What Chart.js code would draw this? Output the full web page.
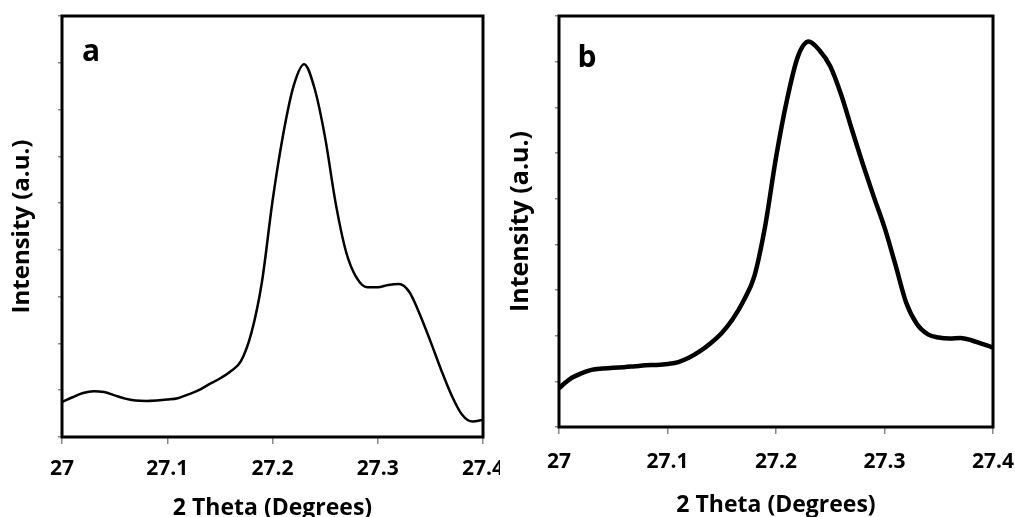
<!DOCTYPE html>
<html>
<head>
<meta charset="utf-8">
<script src="https://cdn.jsdelivr.net/npm/chart.js@4"></script>
<style>
  body { margin: 0; background: #fff; }
  #wrap { position: relative; width: 1015px; height: 517px; overflow: hidden; }
  #chartA { position: absolute; left: 0; top: 0; }
  #chartB { position: absolute; left: 500px; top: 0; }
</style>
</head>
<body>
<div id="wrap">
  <canvas id="chartA" width="500" height="517"></canvas>
  <canvas id="chartB" width="515" height="517"></canvas>
</div>
<script>
// 2 theta positions (degrees)
const theta = [
  27.00, 27.01, 27.02, 27.03, 27.04, 27.05, 27.06, 27.07, 27.08, 27.09,
  27.10, 27.11, 27.12, 27.13, 27.14, 27.15, 27.16, 27.17, 27.18, 27.19,
  27.20, 27.21, 27.22, 27.23, 27.24, 27.25, 27.26, 27.27, 27.28, 27.29,
  27.30, 27.31, 27.32, 27.33, 27.34, 27.35, 27.36, 27.37, 27.38, 27.39,
  27.40
];

// sample a intensity (a.u.)
const intensityA = [
  0.75, 0.85, 0.94, 0.98, 0.96, 0.89, 0.82, 0.78, 0.77, 0.78,
  0.80, 0.83, 0.91, 1.00, 1.13, 1.25, 1.40, 1.62, 2.23, 3.32,
  5.04, 6.45, 7.50, 7.97, 7.45, 6.40, 5.00, 3.95, 3.40, 3.20,
  3.20, 3.25, 3.27, 3.10, 2.62, 2.05, 1.45, 0.90, 0.48, 0.33,
  0.37
];

// sample b intensity (a.u.)
const intensityB = [
  0.85, 1.05, 1.17, 1.25, 1.28, 1.30, 1.31, 1.33, 1.35, 1.36,
  1.38, 1.42, 1.52, 1.66, 1.84, 2.06, 2.36, 2.76, 3.30, 4.40,
  5.90, 7.15, 8.10, 8.44, 8.25, 7.90, 7.28, 6.51, 5.76, 5.05,
  4.37, 3.56, 2.72, 2.25, 2.03, 1.96, 1.94, 1.95, 1.90, 1.82,
  1.74
];

const xTicks = [27, 27.1, 27.2, 27.3, 27.4];

const FONT = "'Open Sans', 'DejaVu Sans', sans-serif";

// box around the plot area + panel letter
const frame = {
    id: 'frame',
    afterDraw(chart, args, opts) {
        const { ctx, chartArea: a } = chart;
        ctx.save();
        ctx.strokeStyle = '#000';
        ctx.lineWidth = opts.lineWidth;
        ctx.strokeRect(a.left, a.top, a.right - a.left, a.bottom - a.top);
        ctx.fillStyle = '#000';
        ctx.font = 'bold 30px ' + FONT;
        ctx.textAlign = 'center';
        ctx.textBaseline = 'alphabetic';
        ctx.fillText(opts.letter, a.left + opts.lx, a.top + opts.ly);
        ctx.restore();
    }
};

function makeChart(id, values, p) {
    const ctx = document.getElementById(id).getContext('2d');
    return new Chart(ctx, {
        type: 'line',
        data: {
            datasets: [{
                data: theta.map((t, i) => ({ x: t, y: values[i] })),
                borderColor: '#000',
                borderWidth: p.lineWidth,
                pointRadius: 0,
                fill: false,
                cubicInterpolationMode: 'monotone'
            }]
        },
        options: {
            responsive: false,
            animation: false,
            events: [],
            layout: {
                autoPadding: false,
                padding: { left: 0, top: 16, right: p.right, bottom: 0 }
            },
            plugins: {
                legend: { display: false },
                tooltip: { enabled: false },
                frame: { lineWidth: p.frameWidth, letter: p.letter, lx: p.lx, ly: p.ly }
            },
            scales: {
                x: {
                    type: 'linear',
                    min: 27,
                    max: 27.4,
                    afterBuildTicks: (s) => { s.ticks = xTicks.map(v => ({ value: v })); },
                    afterFit: (s) => {
                        s.height = p.xHeight;
                        s.paddingLeft = 0;
                        s.paddingRight = 0;
                    },
                    grid: { drawOnChartArea: false, tickLength: 7, color: '#888', lineWidth: 1.5 },
                    border: { display: false },
                    ticks: {
                        color: '#000',
                        padding: p.tickPad,
                        maxRotation: 0,
                        font: { family: FONT, size: 21, weight: 'bold', lineHeight: 1 },
                        callback: (v) => String(+v.toFixed(1))
                    },
                    title: {
                        display: true,
                        text: '2 Theta (Degrees)',
                        color: '#000',
                        padding: { top: 0, bottom: p.xTitlePad },
                        font: { family: FONT, size: 23, weight: 'bold', lineHeight: 1 }
                    }
                },
                y: {
                    min: 0,
                    max: 9,
                    ticks: { stepSize: 1, display: false },
                    afterFit: (s) => { s.width = p.yWidth; },
                    grid: { drawOnChartArea: false, tickLength: 4, color: '#888', lineWidth: 1.5 },
                    border: { display: false },
                    title: {
                        display: true,
                        text: 'Intensity (a.u.)',
                        color: '#000',
                        padding: { top: p.yTitlePad, bottom: 0 },
                        font: { family: FONT, size: p.yTitleSize, weight: 'bold', lineHeight: 1 }
                    }
                }
            }
        },
        plugins: [frame]
    });
}

makeChart('chartA', intensityA, {
    lineWidth: 2.5, frameWidth: 3, letter: 'a', lx: 29, ly: 45,
    right: 17, xHeight: 80, yWidth: 62, tickPad: 15, xTitlePad: -2.5,
    yTitleSize: 24, yTitlePad: 10
});

makeChart('chartB', intensityB, {
    lineWidth: 4.5, frameWidth: 3, letter: 'b', lx: 28, ly: 51,
    right: 22, xHeight: 90, yWidth: 59, tickPad: 18, xTitlePad: 0.5,
    yTitleSize: 25, yTitlePad: 8
});
</script>
</body>
</html>
